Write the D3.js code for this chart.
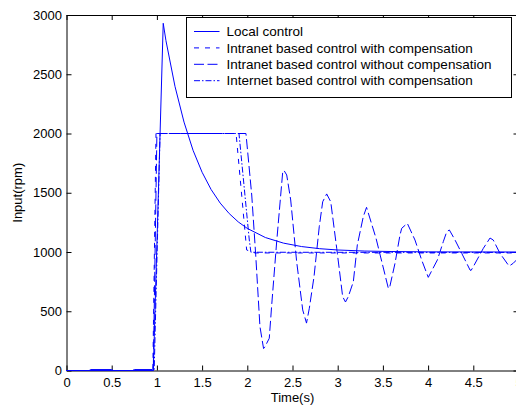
<!DOCTYPE html>
<html>
<head>
<meta charset="utf-8">
<script src="https://cdn.jsdelivr.net/npm/d3@7"></script>
<style>
  html, body { margin: 0; padding: 0; background: #fff; }
  svg { display: block; font-family: "Liberation Sans", Arial, sans-serif; }
</style>
</head>
<body>
<svg id="chart" width="516" height="405"></svg>
<script>
// Speed command (rpm) versus time (s) for four control setups.
const xTicks = [0, 0.5, 1, 1.5, 2, 2.5, 3, 3.5, 4, 4.5, 5];
const yTicks = [0, 500, 1000, 1500, 2000, 2500, 3000];

const seriesNames = [
  "Local control",
  "Intranet based control with compensation",
  "Intranet based control without compensation",
  "Internet based control with compensation"
];

// [time, rpm] pairs
const localControl = [
  [0, 0], [0.25, 0], [0.27, 8], [0.5, 8], [0.52, 0], [0.73, 0], [0.75, 8], [0.95, 8],
  [0.96, 0], [1.07, 2930], [1.1, 2784], [1.2, 2398], [1.3, 2096], [1.4, 1858],
  [1.5, 1673], [1.6, 1527], [1.7, 1413], [1.8, 1324], [1.9, 1254], [2.0, 1199],
  [2.2, 1122], [2.4, 1075], [2.6, 1046], [2.8, 1028], [3.0, 1017], [3.3, 1008],
  [3.6, 1004], [4.0, 1001], [5.0, 1000]
];

const intranetWithComp = [
  [0, 0], [0.955, 0], [0.99, 2000], [1.876, 2000], [1.993, 1017], [2.085, 992], [5.0, 992]
];

const intranetWithoutComp = [
  [0, 0], [0.96, 0], [1.0, 2000], [1.985, 2000], [2.049, 1481], [2.093, 975],
  [2.14, 370], [2.18, 185], [2.196, 201], [2.243, 272], [2.27, 553], [2.325, 1087],
  [2.392, 1678], [2.406, 1688], [2.436, 1650], [2.48, 1439], [2.546, 918],
  [2.613, 511], [2.655, 400], [2.686, 525], [2.738, 792], [2.796, 1213],
  [2.834, 1424], [2.878, 1490], [2.923, 1424], [2.989, 1031], [3.055, 623],
  [3.086, 578], [3.117, 623], [3.173, 749], [3.217, 1059], [3.283, 1298],
  [3.319, 1377], [3.424, 1116], [3.56, 694], [3.573, 696], [3.634, 905],
  [3.689, 1143], [3.708, 1200], [3.77, 1242], [3.855, 1101], [3.929, 932],
  [4.002, 786], [4.102, 932], [4.168, 1087], [4.206, 1171], [4.235, 1186],
  [4.298, 1101], [4.372, 989], [4.464, 848], [4.475, 844], [4.5, 876],
  [4.611, 1031], [4.685, 1118], [4.721, 1101], [4.795, 989], [4.887, 890],
  [4.898, 882], [4.942, 905], [5.0, 950]
];

const internetWithComp = [
  [0, 0], [0.97, 0], [1.035, 2000], [1.908, 2000], [2.022, 1101], [2.04, 998], [5.0, 996]
];

const seriesData = [localControl, intranetWithComp, intranetWithoutComp, internetWithComp];
const dashes = [null, "5,6", "10,3.5", "6,2,1.5,2"];

const svg = d3.select("#chart");
const margin = { left: 66.5, right: 518.5, top: 15, bottom: 370.5 };

const x = d3.scaleLinear().domain([0, 5]).range([margin.left, margin.right]);
const y = d3.scaleLinear().domain([0, 3000]).range([margin.bottom, margin.top]);

const fmt = d => String(d);
const tickLen = 5;

// axes: bottom/left with labels, top/right as plain box edges with inward ticks
const axisBottom = d3.axisBottom(x).tickValues(xTicks).tickFormat(fmt).tickSizeInner(-tickLen).tickSizeOuter(0).tickPadding(7);
const axisLeft = d3.axisLeft(y).tickValues(yTicks).tickFormat(fmt).tickSizeInner(-tickLen).tickSizeOuter(0).tickPadding(4.5);
const axisTop = d3.axisTop(x).tickValues(xTicks).tickFormat("").tickSizeInner(-tickLen).tickSizeOuter(0);
const axisRight = d3.axisRight(y).tickValues(yTicks).tickFormat("").tickSizeInner(-tickLen).tickSizeOuter(0);

function styleAxis(g) {
  g.selectAll("path.domain").attr("stroke", "#000").attr("stroke-width", 1);
  g.selectAll(".tick line").attr("stroke", "#000").attr("stroke-width", 1);
  g.selectAll(".tick text").attr("fill", "#000").attr("font-size", "13px")
    .attr("font-family", "'Liberation Sans', Arial, sans-serif");
}

svg.append("g").attr("transform", `translate(0,${margin.bottom})`).call(axisBottom).call(styleAxis);
svg.append("g").attr("transform", `translate(${margin.left},0)`).call(axisLeft).call(styleAxis);
svg.append("g").attr("transform", `translate(0,${margin.top})`).call(axisTop).call(styleAxis);
svg.append("g").attr("transform", `translate(${margin.right},0)`).call(axisRight).call(styleAxis);

// axis titles
svg.append("text")
  .attr("x", (margin.left + margin.right) / 2)
  .attr("y", 402)
  .attr("text-anchor", "middle")
  .attr("font-size", "13px")
  .text("Time(s)");

svg.append("text")
  .attr("transform", `translate(22,${(margin.top + margin.bottom) / 2}) rotate(-90)`)
  .attr("text-anchor", "middle")
  .attr("font-size", "13px")
  .text("Input(rpm)");

// data lines
svg.append("clipPath").attr("id", "plot-clip")
  .append("rect")
  .attr("x", margin.left - 1).attr("y", margin.top - 1)
  .attr("width", margin.right - margin.left + 2)
  .attr("height", margin.bottom - margin.top + 2);

const line = d3.line().x(d => x(d[0])).y(d => y(d[1]));

const plot = svg.append("g").attr("clip-path", "url(#plot-clip)");
seriesData.forEach((s, i) => {
  plot.append("path")
    .datum(s)
    .attr("d", line)
    .attr("fill", "none")
    .attr("stroke", "#0000ff")
    .attr("stroke-width", 1)
    .attr("stroke-linejoin", "round")
    .attr("stroke-dasharray", dashes[i]);
});

// legend
const legend = svg.append("g");
legend.append("rect")
  .attr("x", 186.5).attr("y", 17.5)
  .attr("width", 325).attr("height", 80)
  .attr("fill", "#fff").attr("stroke", "#000").attr("stroke-width", 1);

seriesNames.forEach((name, i) => {
  const cy = 31.5 + i * 16.4;
  legend.append("line")
    .attr("x1", 194).attr("x2", 219.5)
    .attr("y1", cy).attr("y2", cy)
    .attr("stroke", "#0000ff").attr("stroke-width", 1)
    .attr("stroke-dasharray", dashes[i]);
  legend.append("text")
    .attr("x", 226.5).attr("y", cy)
    .attr("dy", "0.35em")
    .attr("font-size", "13.5px")
    .text(name);
});
</script>
</body>
</html>
